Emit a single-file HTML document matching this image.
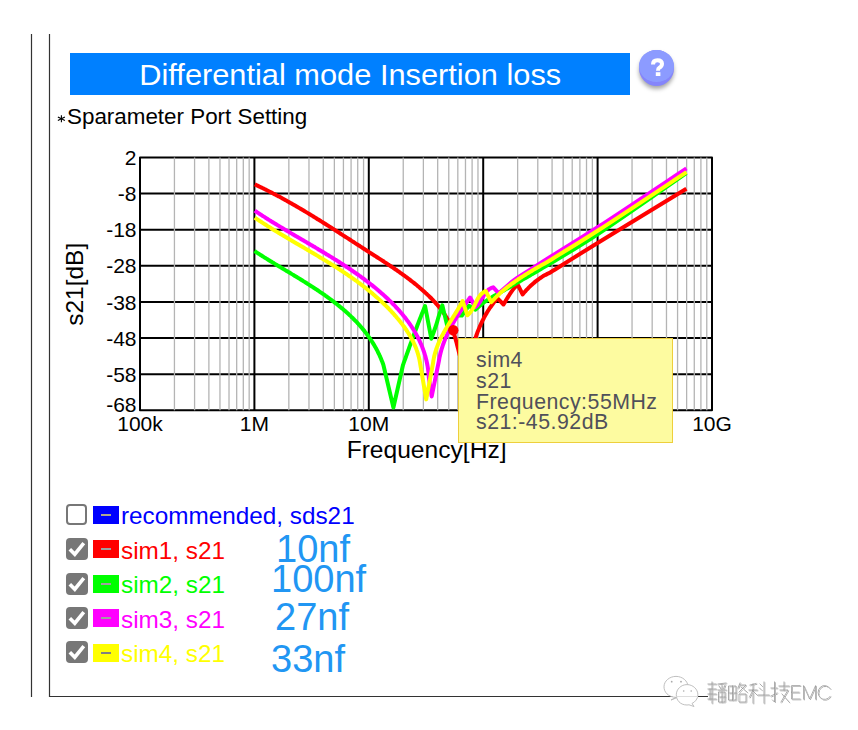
<!DOCTYPE html>
<html><head><meta charset="utf-8"><style>
html,body{margin:0;padding:0;background:#fff;width:858px;height:730px;overflow:hidden;position:relative;font-family:"Liberation Sans",sans-serif}
.bar{position:absolute;left:70px;top:53px;width:560px;height:42px;background:#0080ff}
.title{position:absolute;left:70px;top:53.8px;width:560px;height:42px;color:#fff;font-size:29.5px;line-height:42px;text-align:center;white-space:pre}
.title span{display:inline-block;transform:scaleX(1.043);transform-origin:50% 50%}
.help{position:absolute;left:639px;top:50px;width:35px;height:36px;border-radius:50%;background:#8585fb;box-shadow:0 3px 4px rgba(0,0,0,0.35)}
.help .in{position:absolute;left:0;top:0;width:35px;height:31.5px;border-radius:50%;background:#8c9bff}
.sub{position:absolute;left:67px;top:104.2px;font-size:22.4px;color:#000;white-space:pre}
.cb{position:absolute;left:65.5px;box-sizing:border-box;border-radius:4px}
.cb.off{width:21px;height:21px;border:2px solid #777;background:#fff}
.cb.on{width:22px;height:22px;background:#777}
.cb svg{position:absolute;left:0;top:0}
.sw{position:absolute;left:93px;width:26px;height:18px}
.dash{position:absolute;left:8px;top:8px;width:10px;height:2px}
.lt{position:absolute;left:121px;font-size:24.3px;line-height:28px;white-space:pre}
.nf{position:absolute;font-size:38px;color:#2196f3;line-height:40px;white-space:pre}
.tip{position:absolute;left:458px;top:338px;width:215px;height:105px;box-sizing:border-box;background:#fdfba0;border:1px solid #eecf3c}
.emc{position:absolute;left:789.5px;top:680px;font-size:19px;line-height:26px;color:#fff;-webkit-text-stroke:0.5px #999;text-shadow:0.8px 0.8px 0 rgba(80,80,80,0.45)}
.tip div{position:absolute;left:17px;font-size:21.3px;letter-spacing:0.5px;color:#50505a;white-space:pre;line-height:24px}
</style></head><body>
<svg width="858" height="730" viewBox="0 0 858 730" style="position:absolute;left:0;top:0">
<line x1="31.5" y1="34" x2="31.5" y2="697" stroke="#333" stroke-width="1.2"/>
<line x1="49.5" y1="34" x2="49.5" y2="697" stroke="#333" stroke-width="1.2"/>
<line x1="49" y1="696.5" x2="708" y2="696.5" stroke="#333" stroke-width="1.2"/>
<g><line x1="254.40" y1="157.5" x2="254.40" y2="410.3" stroke="#000" stroke-width="2"/><line x1="368.80" y1="157.5" x2="368.80" y2="410.3" stroke="#000" stroke-width="2"/><line x1="483.20" y1="157.5" x2="483.20" y2="410.3" stroke="#000" stroke-width="2"/><line x1="597.60" y1="157.5" x2="597.60" y2="410.3" stroke="#000" stroke-width="2"/><line x1="140.0" y1="193.61" x2="712.0" y2="193.61" stroke="#000" stroke-width="2"/><line x1="140.0" y1="229.73" x2="712.0" y2="229.73" stroke="#000" stroke-width="2"/><line x1="140.0" y1="265.84" x2="712.0" y2="265.84" stroke="#000" stroke-width="2"/><line x1="140.0" y1="301.96" x2="712.0" y2="301.96" stroke="#000" stroke-width="2"/><line x1="140.0" y1="338.07" x2="712.0" y2="338.07" stroke="#000" stroke-width="2"/><line x1="140.0" y1="374.19" x2="712.0" y2="374.19" stroke="#000" stroke-width="2"/></g>
<rect x="140.0" y="157.5" width="572.0" height="252.8" fill="none" stroke="#000" stroke-width="2" stroke-linejoin="round"/>
<g><line x1="174.44" y1="157.5" x2="174.44" y2="410.3" stroke="#b4b4b4" stroke-width="1.3"/><line x1="194.58" y1="157.5" x2="194.58" y2="410.3" stroke="#b4b4b4" stroke-width="1.3"/><line x1="208.88" y1="157.5" x2="208.88" y2="410.3" stroke="#b4b4b4" stroke-width="1.3"/><line x1="219.96" y1="157.5" x2="219.96" y2="410.3" stroke="#b4b4b4" stroke-width="1.3"/><line x1="229.02" y1="157.5" x2="229.02" y2="410.3" stroke="#b4b4b4" stroke-width="1.3"/><line x1="236.68" y1="157.5" x2="236.68" y2="410.3" stroke="#b4b4b4" stroke-width="1.3"/><line x1="243.31" y1="157.5" x2="243.31" y2="410.3" stroke="#b4b4b4" stroke-width="1.3"/><line x1="249.17" y1="157.5" x2="249.17" y2="410.3" stroke="#b4b4b4" stroke-width="1.3"/><line x1="288.84" y1="157.5" x2="288.84" y2="410.3" stroke="#b4b4b4" stroke-width="1.3"/><line x1="308.98" y1="157.5" x2="308.98" y2="410.3" stroke="#b4b4b4" stroke-width="1.3"/><line x1="323.28" y1="157.5" x2="323.28" y2="410.3" stroke="#b4b4b4" stroke-width="1.3"/><line x1="334.36" y1="157.5" x2="334.36" y2="410.3" stroke="#b4b4b4" stroke-width="1.3"/><line x1="343.42" y1="157.5" x2="343.42" y2="410.3" stroke="#b4b4b4" stroke-width="1.3"/><line x1="351.08" y1="157.5" x2="351.08" y2="410.3" stroke="#b4b4b4" stroke-width="1.3"/><line x1="357.71" y1="157.5" x2="357.71" y2="410.3" stroke="#b4b4b4" stroke-width="1.3"/><line x1="363.57" y1="157.5" x2="363.57" y2="410.3" stroke="#b4b4b4" stroke-width="1.3"/><line x1="403.24" y1="157.5" x2="403.24" y2="410.3" stroke="#b4b4b4" stroke-width="1.3"/><line x1="423.38" y1="157.5" x2="423.38" y2="410.3" stroke="#b4b4b4" stroke-width="1.3"/><line x1="437.68" y1="157.5" x2="437.68" y2="410.3" stroke="#b4b4b4" stroke-width="1.3"/><line x1="448.76" y1="157.5" x2="448.76" y2="410.3" stroke="#b4b4b4" stroke-width="1.3"/><line x1="457.82" y1="157.5" x2="457.82" y2="410.3" stroke="#b4b4b4" stroke-width="1.3"/><line x1="465.48" y1="157.5" x2="465.48" y2="410.3" stroke="#b4b4b4" stroke-width="1.3"/><line x1="472.11" y1="157.5" x2="472.11" y2="410.3" stroke="#b4b4b4" stroke-width="1.3"/><line x1="477.97" y1="157.5" x2="477.97" y2="410.3" stroke="#b4b4b4" stroke-width="1.3"/><line x1="517.64" y1="157.5" x2="517.64" y2="410.3" stroke="#b4b4b4" stroke-width="1.3"/><line x1="537.78" y1="157.5" x2="537.78" y2="410.3" stroke="#b4b4b4" stroke-width="1.3"/><line x1="552.08" y1="157.5" x2="552.08" y2="410.3" stroke="#b4b4b4" stroke-width="1.3"/><line x1="563.16" y1="157.5" x2="563.16" y2="410.3" stroke="#b4b4b4" stroke-width="1.3"/><line x1="572.22" y1="157.5" x2="572.22" y2="410.3" stroke="#b4b4b4" stroke-width="1.3"/><line x1="579.88" y1="157.5" x2="579.88" y2="410.3" stroke="#b4b4b4" stroke-width="1.3"/><line x1="586.51" y1="157.5" x2="586.51" y2="410.3" stroke="#b4b4b4" stroke-width="1.3"/><line x1="592.37" y1="157.5" x2="592.37" y2="410.3" stroke="#b4b4b4" stroke-width="1.3"/><line x1="632.04" y1="157.5" x2="632.04" y2="410.3" stroke="#b4b4b4" stroke-width="1.3"/><line x1="652.18" y1="157.5" x2="652.18" y2="410.3" stroke="#b4b4b4" stroke-width="1.3"/><line x1="666.48" y1="157.5" x2="666.48" y2="410.3" stroke="#b4b4b4" stroke-width="1.3"/><line x1="677.56" y1="157.5" x2="677.56" y2="410.3" stroke="#b4b4b4" stroke-width="1.3"/><line x1="686.62" y1="157.5" x2="686.62" y2="410.3" stroke="#b4b4b4" stroke-width="1.3"/><line x1="694.28" y1="157.5" x2="694.28" y2="410.3" stroke="#b4b4b4" stroke-width="1.3"/><line x1="700.91" y1="157.5" x2="700.91" y2="410.3" stroke="#b4b4b4" stroke-width="1.3"/><line x1="706.77" y1="157.5" x2="706.77" y2="410.3" stroke="#b4b4b4" stroke-width="1.3"/></g>
<g font-family="Liberation Sans" font-size="21" fill="#000"><text x="136.5" y="165.1" text-anchor="end">2</text><text x="136.5" y="201.2" text-anchor="end">-8</text><text x="136.5" y="237.3" text-anchor="end">-18</text><text x="136.5" y="273.4" text-anchor="end">-28</text><text x="136.5" y="309.6" text-anchor="end">-38</text><text x="136.5" y="345.7" text-anchor="end">-48</text><text x="136.5" y="381.8" text-anchor="end">-58</text><text x="136.5" y="411.8" text-anchor="end">-68</text><text x="140.0" y="431" text-anchor="middle">100k</text><text x="254.4" y="431" text-anchor="middle">1M</text><text x="368.8" y="431" text-anchor="middle">10M</text><text x="483.2" y="431" text-anchor="middle">100M</text><text x="597.6" y="431" text-anchor="middle">1G</text><text x="712.0" y="431" text-anchor="middle">10G</text></g>
<text x="426.6" y="458.2" text-anchor="middle" font-family="Liberation Sans" font-size="24.6" fill="#000">Frequency[Hz]</text>
<text transform="translate(83,284.3) rotate(-90)" text-anchor="middle" font-family="Liberation Sans" font-size="24.5" fill="#000">s21[dB]</text>
<path d="M254.80,184.40 C255.03,184.51 255.71,184.83 256.17,185.04 C256.62,185.25 257.08,185.47 257.53,185.68 C257.99,185.90 258.44,186.12 258.89,186.33 C259.35,186.55 259.80,186.77 260.25,186.99 C260.71,187.21 261.16,187.43 261.61,187.65 C262.06,187.87 262.52,188.09 262.97,188.31 C263.42,188.53 263.87,188.76 264.32,188.98 C264.77,189.20 265.22,189.43 265.67,189.65 C266.12,189.88 266.57,190.10 267.02,190.33 C267.47,190.56 267.92,190.78 268.37,191.01 C268.81,191.24 269.26,191.47 269.71,191.70 C270.16,191.93 270.61,192.16 271.05,192.39 C271.50,192.62 271.95,192.85 272.39,193.08 C272.84,193.31 273.28,193.55 273.73,193.78 C274.18,194.01 274.62,194.25 275.07,194.48 C275.51,194.72 275.96,194.95 276.40,195.19 C276.84,195.43 277.29,195.66 277.73,195.90 C278.18,196.14 278.62,196.37 279.06,196.61 C279.51,196.85 279.95,197.09 280.39,197.33 C280.83,197.57 281.27,197.81 281.72,198.05 C282.16,198.29 282.60,198.54 283.04,198.78 C283.48,199.02 283.92,199.26 284.36,199.51 C284.80,199.75 285.24,199.99 285.68,200.24 C286.12,200.48 286.56,200.73 287.00,200.97 C287.44,201.22 287.88,201.47 288.32,201.71 C288.76,201.96 289.20,202.21 289.64,202.46 C290.07,202.70 290.51,202.95 290.95,203.20 C291.39,203.45 291.82,203.70 292.26,203.95 C292.70,204.20 293.14,204.45 293.57,204.70 C294.01,204.95 294.44,205.20 294.88,205.46 C295.32,205.71 295.75,205.96 296.19,206.21 C296.62,206.47 297.06,206.72 297.49,206.97 C297.93,207.23 298.36,207.48 298.80,207.74 C299.23,207.99 299.67,208.25 300.10,208.50 C300.54,208.76 300.97,209.01 301.40,209.27 C301.84,209.53 302.27,209.79 302.70,210.04 C303.14,210.30 303.57,210.56 304.00,210.82 C304.43,211.07 304.87,211.33 305.30,211.59 C305.73,211.85 306.16,212.11 306.59,212.37 C307.03,212.63 307.46,212.89 307.89,213.15 C308.32,213.41 308.75,213.67 309.18,213.94 C309.61,214.20 310.04,214.46 310.47,214.72 C310.90,214.98 311.33,215.25 311.76,215.51 C312.19,215.77 312.62,216.04 313.05,216.30 C313.48,216.56 313.91,216.83 314.34,217.09 C314.77,217.35 315.20,217.62 315.63,217.88 C316.06,218.15 316.49,218.41 316.92,218.68 C317.34,218.95 317.77,219.21 318.20,219.48 C318.63,219.74 319.06,220.01 319.49,220.28 C319.91,220.54 320.34,220.81 320.77,221.08 C321.20,221.34 321.62,221.61 322.05,221.88 C322.48,222.15 322.90,222.41 323.33,222.68 C323.76,222.95 324.19,223.22 324.61,223.49 C325.04,223.76 325.47,224.03 325.89,224.29 C326.32,224.56 326.74,224.83 327.17,225.10 C327.60,225.37 328.02,225.64 328.45,225.91 C328.87,226.18 329.30,226.45 329.72,226.72 C330.15,226.99 330.57,227.26 331.00,227.53 C331.43,227.81 331.85,228.08 332.28,228.35 C332.70,228.62 333.13,228.89 333.55,229.16 C333.97,229.43 334.40,229.70 334.82,229.98 C335.25,230.25 335.67,230.52 336.10,230.79 C336.52,231.06 336.95,231.33 337.37,231.61 C337.79,231.88 338.22,232.15 338.64,232.42 C339.07,232.70 339.49,232.97 339.91,233.24 C340.34,233.51 340.76,233.79 341.18,234.06 C341.61,234.33 342.03,234.61 342.45,234.88 C342.88,235.15 343.30,235.42 343.72,235.70 C344.15,235.97 344.57,236.24 344.99,236.52 C345.42,236.79 345.84,237.06 346.26,237.34 C346.68,237.61 347.11,237.88 347.53,238.16 C347.95,238.43 348.38,238.70 348.80,238.98 C349.22,239.25 349.64,239.52 350.07,239.80 C350.49,240.07 350.91,240.34 351.33,240.62 C351.76,240.89 352.18,241.17 352.60,241.44 C353.02,241.71 353.44,241.99 353.87,242.26 C354.29,242.53 354.71,242.81 355.13,243.08 C355.56,243.35 355.98,243.63 356.40,243.90 C356.82,244.17 357.24,244.45 357.67,244.72 C358.09,244.99 358.51,245.27 358.93,245.54 C359.35,245.81 359.78,246.08 360.20,246.36 C360.62,246.63 361.04,246.90 361.46,247.18 C361.89,247.45 362.31,247.72 362.73,247.99 C363.15,248.27 363.57,248.54 364.00,248.81 C364.42,249.08 364.84,249.36 365.26,249.63 C365.68,249.90 366.11,250.17 366.53,250.44 C366.95,250.72 367.37,250.99 367.79,251.26 C368.22,251.53 368.64,251.80 369.06,252.07 C369.48,252.34 369.90,252.61 370.33,252.89 C370.75,253.16 371.17,253.43 371.59,253.70 C372.01,253.97 372.44,254.24 372.86,254.51 C373.28,254.78 373.70,255.05 374.12,255.32 C374.54,255.59 374.97,255.86 375.39,256.13 C375.81,256.41 376.23,256.68 376.65,256.95 C377.07,257.22 377.49,257.49 377.92,257.76 C378.34,258.03 378.76,258.30 379.18,258.57 C379.60,258.85 380.02,259.12 380.44,259.39 C380.86,259.66 381.28,259.93 381.70,260.21 C382.12,260.48 382.54,260.75 382.96,261.02 C383.38,261.30 383.80,261.57 384.22,261.84 C384.64,262.12 385.05,262.39 385.47,262.66 C385.89,262.94 386.31,263.21 386.73,263.49 C387.15,263.76 387.56,264.04 387.98,264.32 C388.40,264.59 388.81,264.87 389.23,265.14 C389.65,265.42 390.06,265.70 390.48,265.98 C390.89,266.25 391.31,266.53 391.73,266.81 C392.14,267.09 392.55,267.37 392.97,267.65 C393.38,267.93 393.80,268.21 394.21,268.49 C394.62,268.78 395.04,269.06 395.45,269.34 C395.86,269.62 396.27,269.91 396.68,270.19 C397.10,270.48 397.51,270.76 397.92,271.05 C398.33,271.33 398.74,271.62 399.15,271.91 C399.56,272.19 399.96,272.48 400.37,272.77 C400.78,273.06 401.19,273.35 401.60,273.64 C402.00,273.93 402.41,274.22 402.82,274.52 C403.22,274.81 403.63,275.10 404.03,275.40 C404.44,275.69 404.84,275.99 405.24,276.28 C405.65,276.58 406.05,276.88 406.45,277.18 C406.85,277.48 407.26,277.78 407.66,278.08 C408.06,278.38 408.46,278.68 408.86,278.98 C409.26,279.29 409.65,279.59 410.05,279.90 C410.45,280.20 410.85,280.51 411.24,280.82 C411.64,281.12 412.03,281.43 412.43,281.74 C412.82,282.05 413.22,282.37 413.61,282.68 C414.00,282.99 414.40,283.31 414.79,283.62 C415.18,283.94 415.57,284.25 415.96,284.57 C416.35,284.89 416.74,285.21 417.13,285.53 C417.51,285.85 417.90,286.18 418.29,286.50 C418.67,286.82 419.06,287.15 419.44,287.48 C419.83,287.80 420.21,288.13 420.59,288.46 C420.98,288.79 421.36,289.12 421.74,289.46 C422.12,289.79 422.50,290.13 422.88,290.46 C423.26,290.80 423.63,291.14 424.01,291.48 C424.39,291.82 424.76,292.16 425.14,292.50 C425.51,292.84 425.88,293.19 426.26,293.53 C426.63,293.88 427.00,294.23 427.37,294.58 C427.74,294.93 428.11,295.28 428.48,295.63 C428.85,295.99 429.21,296.34 429.58,296.70 C429.94,297.06 430.30,297.42 430.66,297.78 C431.03,298.14 431.39,298.50 431.74,298.86 C432.10,299.23 432.46,299.60 432.81,299.96 C433.16,300.33 433.51,300.70 433.86,301.07 C434.21,301.44 434.56,301.82 434.90,302.19 C435.25,302.57 435.59,302.94 435.93,303.32 C436.27,303.70 436.61,304.08 436.94,304.46 C437.27,304.85 437.60,305.23 437.93,305.62 C438.26,306.00 438.59,306.39 438.91,306.78 C439.23,307.17 439.55,307.56 439.86,307.95 C440.18,308.35 440.49,308.74 440.80,309.14 C441.11,309.53 441.41,309.93 441.72,310.33 C442.02,310.73 442.32,311.14 442.61,311.54 C442.90,311.95 443.19,312.35 443.48,312.76 C443.77,313.17 444.05,313.58 444.33,313.99 C444.60,314.40 444.88,314.82 445.15,315.23 C445.42,315.65 445.68,316.06 445.95,316.48 C446.21,316.90 446.46,317.32 446.72,317.75 C446.97,318.17 447.22,318.60 447.46,319.02 C447.71,319.45 447.95,319.88 448.18,320.31 C448.42,320.74 448.65,321.17 448.88,321.61 C449.11,322.04 449.33,322.48 449.55,322.92 C449.76,323.36 449.98,323.80 450.18,324.24 C450.39,324.68 450.60,325.12 450.80,325.57 C451.00,326.02 451.19,326.47 451.38,326.91 C451.57,327.36 451.76,327.82 451.94,328.27 C452.12,328.72 452.30,329.18 452.47,329.64 C452.65,330.09 452.82,330.55 452.98,331.01 C453.15,331.47 453.31,331.93 453.47,332.40 C453.63,332.86 453.79,333.32 453.94,333.79 C454.09,334.26 454.24,334.72 454.39,335.19 C454.54,335.66 454.68,336.13 454.83,336.60 C454.97,337.07 455.11,337.55 455.25,338.02 C455.38,338.49 455.52,338.97 455.65,339.44 C455.79,339.92 455.92,340.39 456.05,340.87 C456.18,341.35 456.31,341.83 456.44,342.30 C456.57,342.78 456.69,343.26 456.82,343.74 C456.94,344.22 457.07,344.70 457.19,345.19 C457.31,345.67 457.44,346.15 457.56,346.63 C457.68,347.12 457.80,347.60 457.93,348.08 C458.05,348.57 458.17,349.05 458.29,349.53 C458.41,350.02 458.53,350.50 458.66,350.99 C458.78,351.47 458.90,351.96 459.03,352.44 C459.15,352.93 459.27,353.41 459.40,353.90 C459.52,354.38 459.65,354.87 459.78,355.35 C459.90,355.84 460.03,356.32 460.16,356.81 C460.29,357.29 460.42,357.77 460.56,358.26 C460.69,358.74 460.83,359.23 460.96,359.71 C461.10,360.19 461.24,360.68 461.38,361.16 C461.52,361.64 461.67,362.12 461.82,362.61 C461.96,363.09 462.11,363.57 462.26,364.05 C462.42,364.53 462.57,365.01 462.73,365.49 C462.89,365.97 463.05,366.44 463.22,366.92 C463.38,367.40 463.55,367.88 463.72,368.35 C463.90,368.83 464.07,369.30 464.25,369.77 C464.44,370.25 464.62,370.72 464.81,371.19 C465.00,371.66 465.19,372.13 465.39,372.60 C465.59,373.07 465.90,373.77 466.00,374.00 C466.05,373.75 466.21,373.02 466.32,372.52 C466.43,372.03 466.54,371.54 466.65,371.04 C466.76,370.55 466.87,370.05 466.98,369.56 C467.09,369.06 467.20,368.57 467.31,368.07 C467.42,367.58 467.53,367.08 467.64,366.58 C467.76,366.09 467.87,365.59 467.99,365.09 C468.10,364.59 468.21,364.10 468.33,363.60 C468.45,363.10 468.56,362.60 468.68,362.10 C468.80,361.61 468.92,361.11 469.04,360.61 C469.16,360.11 469.28,359.61 469.40,359.11 C469.52,358.61 469.65,358.11 469.77,357.62 C469.89,357.12 470.02,356.62 470.14,356.12 C470.27,355.62 470.40,355.12 470.53,354.62 C470.66,354.13 470.79,353.63 470.92,353.13 C471.05,352.63 471.18,352.13 471.32,351.64 C471.45,351.14 471.59,350.64 471.72,350.14 C471.86,349.65 472.00,349.15 472.14,348.65 C472.28,348.16 472.42,347.66 472.57,347.17 C472.71,346.67 472.85,346.18 473.00,345.68 C473.15,345.19 473.30,344.69 473.45,344.20 C473.60,343.71 473.75,343.21 473.90,342.72 C474.06,342.23 474.21,341.74 474.37,341.25 C474.53,340.76 474.69,340.27 474.85,339.78 C475.01,339.29 475.17,338.80 475.34,338.31 C475.50,337.82 475.67,337.34 475.84,336.85 C476.01,336.36 476.18,335.88 476.35,335.40 C476.53,334.91 476.70,334.43 476.88,333.95 C477.06,333.46 477.24,332.98 477.42,332.50 C477.60,332.02 477.79,331.54 477.98,331.06 C478.16,330.59 478.35,330.11 478.54,329.63 C478.74,329.16 478.93,328.68 479.13,328.21 C479.32,327.74 479.52,327.27 479.73,326.79 C479.93,326.32 480.13,325.85 480.34,325.39 C480.55,324.92 480.76,324.45 480.97,323.99 C481.18,323.52 481.40,323.06 481.61,322.60 C481.83,322.13 482.05,321.67 482.28,321.21 C482.50,320.75 482.73,320.30 482.96,319.84 C483.18,319.39 483.42,318.93 483.65,318.48 C483.89,318.03 484.13,317.57 484.37,317.13 C484.61,316.68 484.85,316.23 485.10,315.78 C485.35,315.34 485.60,314.89 485.85,314.45 C486.10,314.01 486.36,313.57 486.62,313.13 C486.88,312.69 487.14,312.26 487.41,311.82 C487.68,311.39 487.95,310.96 488.22,310.53 C488.49,310.10 488.77,309.67 489.05,309.24 C489.33,308.82 489.61,308.39 489.90,307.97 C490.19,307.55 490.48,307.13 490.77,306.71 C491.07,306.29 491.37,305.88 491.67,305.47 C491.97,305.05 492.27,304.64 492.58,304.24 C492.89,303.83 493.20,303.42 493.52,303.02 C493.84,302.62 494.16,302.21 494.48,301.82 C494.80,301.42 495.13,301.02 495.46,300.63 C495.79,300.24 496.13,299.84 496.47,299.46 C496.81,299.07 497.33,298.49 497.50,298.30 C498.50,299.33 502.50,303.47 503.50,304.50 C504.63,302.65 508.37,296.28 510.30,293.40 C512.23,290.52 513.78,288.52 515.10,287.20 C516.42,285.88 517.68,285.78 518.20,285.50 C518.93,286.98 521.87,292.92 522.60,294.40 C522.77,294.20 523.28,293.60 523.62,293.20 C523.96,292.80 524.31,292.41 524.66,292.02 C525.01,291.62 525.36,291.23 525.71,290.84 C526.06,290.46 526.42,290.07 526.78,289.69 C527.14,289.31 527.50,288.93 527.87,288.55 C528.23,288.17 528.60,287.80 528.97,287.43 C529.34,287.06 529.72,286.69 530.09,286.32 C530.47,285.96 530.85,285.60 531.23,285.24 C531.62,284.89 532.00,284.53 532.39,284.18 C532.78,283.83 533.17,283.49 533.57,283.15 C533.97,282.81 534.37,282.47 534.77,282.14 C535.17,281.80 535.58,281.47 535.99,281.15 C536.40,280.82 536.81,280.51 537.23,280.19 C537.64,279.88 538.06,279.57 538.49,279.26 C538.91,278.95 539.34,278.65 539.77,278.36 C540.20,278.06 540.64,277.77 541.07,277.49 C541.51,277.21 541.96,276.93 542.40,276.65 C542.85,276.38 543.30,276.11 543.75,275.85 C544.21,275.59 544.67,275.33 545.13,275.08 C545.59,274.83 546.06,274.59 546.53,274.35 C547.00,274.11 547.47,273.88 547.95,273.66 C548.43,273.43 549.16,273.11 549.40,273.00 C557.43,268.00 574.77,257.03 597.60,243.00 C620.43,228.97 671.60,197.83 686.40,188.80" fill="none" stroke="#ff0000" stroke-width="4" stroke-linejoin="round" stroke-linecap="butt"/>
<path d="M254.50,251.00 C254.70,251.13 255.30,251.53 255.71,251.80 C256.11,252.06 256.51,252.33 256.92,252.60 C257.32,252.86 257.73,253.13 258.14,253.39 C258.55,253.65 258.95,253.92 259.36,254.18 C259.77,254.45 260.18,254.71 260.60,254.97 C261.01,255.24 261.42,255.50 261.83,255.76 C262.25,256.03 262.66,256.29 263.08,256.55 C263.49,256.82 263.91,257.08 264.33,257.34 C264.75,257.60 265.16,257.87 265.58,258.13 C266.00,258.39 266.42,258.65 266.84,258.91 C267.26,259.17 267.69,259.44 268.11,259.70 C268.53,259.96 268.95,260.22 269.38,260.48 C269.80,260.74 270.23,261.00 270.65,261.27 C271.08,261.53 271.51,261.79 271.93,262.05 C272.36,262.31 272.79,262.57 273.22,262.83 C273.64,263.09 274.07,263.35 274.50,263.62 C274.93,263.88 275.36,264.14 275.79,264.40 C276.22,264.66 276.66,264.92 277.09,265.18 C277.52,265.44 277.95,265.70 278.38,265.96 C278.82,266.23 279.25,266.49 279.68,266.75 C280.12,267.01 280.55,267.27 280.99,267.53 C281.42,267.80 281.86,268.06 282.29,268.32 C282.73,268.58 283.16,268.84 283.60,269.11 C284.04,269.37 284.47,269.63 284.91,269.89 C285.35,270.16 285.78,270.42 286.22,270.68 C286.66,270.94 287.09,271.21 287.53,271.47 C287.97,271.73 288.41,272.00 288.85,272.26 C289.28,272.53 289.72,272.79 290.16,273.05 C290.60,273.32 291.04,273.58 291.48,273.85 C291.92,274.11 292.36,274.38 292.79,274.65 C293.23,274.91 293.67,275.18 294.11,275.44 C294.55,275.71 294.99,275.98 295.43,276.24 C295.87,276.51 296.31,276.78 296.75,277.05 C297.19,277.31 297.62,277.58 298.06,277.85 C298.50,278.12 298.94,278.39 299.38,278.66 C299.82,278.93 300.26,279.20 300.70,279.47 C301.13,279.74 301.57,280.01 302.01,280.28 C302.45,280.55 302.89,280.83 303.32,281.10 C303.76,281.37 304.20,281.64 304.64,281.92 C305.07,282.19 305.51,282.46 305.95,282.74 C306.38,283.01 306.82,283.29 307.26,283.56 C307.69,283.84 308.13,284.12 308.56,284.39 C309.00,284.67 309.43,284.95 309.87,285.23 C310.30,285.50 310.74,285.78 311.17,286.06 C311.60,286.34 312.04,286.62 312.47,286.90 C312.90,287.18 313.33,287.46 313.76,287.75 C314.20,288.03 314.63,288.31 315.06,288.59 C315.49,288.88 315.92,289.16 316.35,289.45 C316.77,289.73 317.20,290.02 317.63,290.30 C318.06,290.59 318.49,290.88 318.91,291.17 C319.34,291.45 319.77,291.74 320.19,292.03 C320.62,292.32 321.04,292.61 321.46,292.90 C321.89,293.19 322.31,293.49 322.73,293.78 C323.15,294.07 323.58,294.37 324.00,294.66 C324.42,294.96 324.84,295.25 325.25,295.55 C325.67,295.84 326.09,296.14 326.51,296.44 C326.93,296.74 327.34,297.04 327.76,297.34 C328.17,297.64 328.59,297.94 329.00,298.24 C329.41,298.54 329.82,298.84 330.23,299.15 C330.65,299.45 331.06,299.76 331.46,300.06 C331.87,300.37 332.28,300.68 332.69,300.98 C333.09,301.29 333.50,301.60 333.90,301.91 C334.31,302.22 334.71,302.53 335.11,302.85 C335.52,303.16 335.92,303.47 336.32,303.79 C336.72,304.10 337.12,304.42 337.51,304.73 C337.91,305.05 338.31,305.37 338.70,305.69 C339.10,306.00 339.49,306.32 339.88,306.65 C340.27,306.97 340.66,307.29 341.05,307.61 C341.44,307.94 341.83,308.26 342.22,308.59 C342.60,308.91 342.99,309.24 343.37,309.57 C343.76,309.90 344.14,310.23 344.52,310.56 C344.90,310.89 345.28,311.22 345.66,311.56 C346.03,311.89 346.41,312.22 346.79,312.56 C347.16,312.90 347.53,313.23 347.90,313.57 C348.28,313.91 348.65,314.25 349.01,314.59 C349.38,314.93 349.75,315.28 350.11,315.62 C350.48,315.97 350.84,316.31 351.20,316.66 C351.57,317.00 351.93,317.35 352.28,317.70 C352.64,318.05 353.00,318.40 353.35,318.76 C353.71,319.11 354.06,319.46 354.41,319.82 C354.76,320.17 355.11,320.53 355.46,320.89 C355.80,321.25 356.15,321.61 356.49,321.97 C356.84,322.33 357.18,322.70 357.52,323.06 C357.86,323.42 358.19,323.79 358.53,324.16 C358.87,324.53 359.20,324.90 359.53,325.27 C359.86,325.64 360.19,326.01 360.52,326.38 C360.85,326.76 361.17,327.13 361.50,327.51 C361.82,327.89 362.14,328.27 362.46,328.65 C362.78,329.03 363.10,329.41 363.41,329.79 C363.72,330.18 364.04,330.56 364.35,330.95 C364.66,331.34 364.97,331.73 365.27,332.12 C365.58,332.51 365.88,332.90 366.18,333.29 C366.48,333.69 366.78,334.08 367.08,334.48 C367.38,334.88 367.67,335.28 367.96,335.68 C368.26,336.08 368.55,336.48 368.83,336.89 C369.12,337.29 369.41,337.70 369.69,338.11 C369.97,338.52 370.25,338.93 370.53,339.34 C370.81,339.75 371.08,340.17 371.35,340.58 C371.63,341.00 371.90,341.42 372.16,341.84 C372.43,342.26 372.70,342.68 372.96,343.10 C373.22,343.52 373.48,343.95 373.74,344.38 C373.99,344.80 374.25,345.23 374.50,345.66 C374.75,346.10 375.00,346.53 375.25,346.96 C375.49,347.40 375.74,347.84 375.98,348.28 C376.22,348.72 376.46,349.16 376.69,349.60 C376.93,350.04 377.16,350.49 377.39,350.94 C377.62,351.38 377.85,351.83 378.07,352.28 C378.30,352.74 378.52,353.19 378.74,353.65 C378.96,354.10 379.17,354.56 379.38,355.02 C379.60,355.48 379.81,355.94 380.01,356.41 C380.22,356.87 380.42,357.34 380.62,357.80 C380.82,358.27 381.02,358.74 381.22,359.22 C381.41,359.69 381.60,360.16 381.79,360.64 C381.98,361.12 382.16,361.60 382.35,362.08 C382.53,362.56 382.71,363.05 382.88,363.53 C383.06,364.02 383.31,364.76 383.40,365.00 C385.07,372.08 391.73,400.42 393.40,407.50 C395.00,400.42 401.40,372.08 403.00,365.00 C403.09,364.76 403.35,364.04 403.52,363.55 C403.69,363.07 403.86,362.59 404.04,362.11 C404.21,361.62 404.38,361.14 404.55,360.66 C404.72,360.18 404.90,359.69 405.07,359.21 C405.24,358.73 405.41,358.25 405.59,357.76 C405.76,357.28 405.93,356.80 406.10,356.31 C406.28,355.83 406.45,355.35 406.62,354.87 C406.79,354.38 406.97,353.90 407.14,353.42 C407.31,352.94 407.48,352.46 407.66,351.97 C407.83,351.49 408.00,351.01 408.17,350.53 C408.35,350.04 408.52,349.56 408.69,349.08 C408.87,348.60 409.04,348.11 409.21,347.63 C409.39,347.15 409.56,346.67 409.73,346.19 C409.91,345.70 410.08,345.22 410.26,344.74 C410.43,344.26 410.60,343.78 410.78,343.29 C410.95,342.81 411.13,342.33 411.30,341.85 C411.48,341.37 411.65,340.89 411.83,340.40 C412.00,339.92 412.18,339.44 412.35,338.96 C412.53,338.48 412.71,338.00 412.88,337.52 C413.06,337.04 413.23,336.56 413.41,336.07 C413.59,335.59 413.77,335.11 413.94,334.63 C414.12,334.15 414.30,333.67 414.48,333.19 C414.65,332.71 414.83,332.23 415.01,331.75 C415.19,331.27 415.37,330.79 415.55,330.31 C415.73,329.83 415.91,329.35 416.09,328.87 C416.27,328.39 416.45,327.91 416.63,327.43 C416.81,326.95 416.99,326.48 417.17,326.00 C417.36,325.52 417.54,325.04 417.72,324.56 C417.90,324.08 418.09,323.60 418.27,323.13 C418.45,322.65 418.64,322.17 418.82,321.69 C419.01,321.21 419.19,320.74 419.38,320.26 C419.56,319.78 419.75,319.30 419.93,318.83 C420.12,318.35 420.31,317.87 420.49,317.40 C420.68,316.92 420.87,316.44 421.06,315.97 C421.25,315.49 421.43,315.01 421.62,314.54 C421.81,314.06 422.00,313.59 422.19,313.11 C422.39,312.64 422.58,312.16 422.77,311.69 C422.96,311.21 423.15,310.74 423.35,310.26 C423.54,309.79 423.73,309.31 423.93,308.84 C424.12,308.37 424.32,307.89 424.51,307.42 C424.71,306.95 425.00,306.24 425.10,306.00 C426.13,311.45 430.27,333.25 431.30,338.70 C432.12,336.42 435.00,328.62 436.20,325.00 C437.40,321.38 437.48,320.28 438.50,317.00 C439.52,313.72 441.67,307.25 442.30,305.30 C443.25,309.25 447.05,325.05 448.00,329.00 C449.22,326.75 454.08,317.75 455.30,315.50 C456.40,315.50 460.80,315.50 461.90,315.50 C463.05,313.88 467.65,307.42 468.80,305.80 C469.92,306.45 474.38,309.05 475.50,309.70 C475.69,309.51 476.27,308.94 476.65,308.58 C477.04,308.21 477.43,307.85 477.82,307.50 C478.21,307.14 478.60,306.79 478.99,306.45 C479.39,306.11 479.78,305.78 480.18,305.45 C480.58,305.12 480.98,304.79 481.38,304.47 C481.78,304.15 482.19,303.84 482.59,303.53 C483.00,303.22 483.41,302.92 483.82,302.62 C484.23,302.32 484.64,302.02 485.05,301.73 C485.46,301.44 485.88,301.15 486.29,300.87 C486.71,300.58 487.13,300.30 487.55,300.03 C487.97,299.75 488.39,299.48 488.81,299.20 C489.23,298.93 489.66,298.67 490.08,298.40 C490.51,298.13 490.93,297.87 491.36,297.61 C491.79,297.35 492.22,297.09 492.65,296.83 C493.08,296.57 493.51,296.32 493.95,296.06 C494.38,295.81 494.81,295.56 495.25,295.30 C495.69,295.05 496.12,294.80 496.56,294.55 C497.00,294.30 497.44,294.05 497.88,293.80 C498.32,293.55 498.76,293.30 499.20,293.05 C499.64,292.80 500.08,292.54 500.53,292.29 C500.97,292.04 501.42,291.79 501.86,291.54 C502.31,291.28 502.75,291.03 503.20,290.78 C503.65,290.52 504.10,290.27 504.54,290.01 C504.99,289.76 505.44,289.50 505.89,289.25 C506.34,288.99 506.79,288.74 507.24,288.48 C507.69,288.22 508.15,287.96 508.60,287.71 C509.05,287.45 509.50,287.19 509.96,286.93 C510.41,286.67 510.86,286.42 511.32,286.16 C511.77,285.90 512.22,285.64 512.68,285.38 C513.13,285.12 513.59,284.86 514.04,284.60 C514.50,284.34 514.95,284.08 515.41,283.82 C515.86,283.56 516.32,283.30 516.78,283.03 C517.23,282.77 517.69,282.51 518.14,282.25 C518.60,281.99 519.05,281.73 519.51,281.46 C519.97,281.20 520.42,280.94 520.88,280.68 C521.33,280.42 521.79,280.15 522.24,279.89 C522.70,279.63 523.16,279.37 523.61,279.10 C524.07,278.84 524.52,278.58 524.97,278.32 C525.43,278.05 525.88,277.79 526.34,277.53 C526.79,277.27 527.24,277.00 527.70,276.74 C528.15,276.48 528.60,276.22 529.05,275.95 C529.51,275.69 529.96,275.43 530.41,275.17 C530.86,274.90 531.31,274.64 531.76,274.38 C532.21,274.12 532.66,273.86 533.11,273.60 C533.56,273.33 534.00,273.07 534.45,272.81 C534.90,272.55 535.34,272.29 535.79,272.03 C536.24,271.77 536.68,271.51 537.12,271.25 C537.57,270.99 538.01,270.73 538.45,270.47 C538.89,270.21 539.33,269.95 539.77,269.69 C540.21,269.43 540.65,269.17 541.09,268.91 C541.53,268.65 541.97,268.40 542.40,268.14 C542.84,267.88 543.27,267.62 543.70,267.37 C544.14,267.11 544.78,266.73 545.00,266.60 C553.77,261.22 574.03,249.88 597.60,234.30 C621.17,218.72 671.60,183.30 686.40,173.10" fill="none" stroke="#00ff00" stroke-width="4" stroke-linejoin="round" stroke-linecap="butt"/>
<path d="M254.80,210.70 C255.00,210.84 255.62,211.25 256.02,211.52 C256.43,211.79 256.84,212.07 257.25,212.34 C257.66,212.61 258.07,212.88 258.48,213.15 C258.90,213.42 259.31,213.70 259.72,213.97 C260.13,214.24 260.55,214.51 260.96,214.78 C261.38,215.05 261.79,215.31 262.21,215.58 C262.62,215.85 263.04,216.12 263.45,216.39 C263.87,216.65 264.29,216.92 264.71,217.19 C265.13,217.46 265.55,217.72 265.97,217.99 C266.38,218.25 266.81,218.52 267.23,218.79 C267.65,219.05 268.07,219.32 268.49,219.58 C268.91,219.85 269.34,220.11 269.76,220.37 C270.18,220.64 270.61,220.90 271.03,221.17 C271.46,221.43 271.88,221.69 272.31,221.95 C272.73,222.22 273.16,222.48 273.58,222.74 C274.01,223.00 274.44,223.27 274.87,223.53 C275.29,223.79 275.72,224.05 276.15,224.31 C276.58,224.57 277.01,224.83 277.44,225.09 C277.87,225.36 278.30,225.62 278.73,225.88 C279.16,226.14 279.59,226.40 280.02,226.66 C280.45,226.92 280.88,227.18 281.32,227.43 C281.75,227.69 282.18,227.95 282.61,228.21 C283.05,228.47 283.48,228.73 283.91,228.99 C284.35,229.25 284.78,229.51 285.22,229.77 C285.65,230.02 286.09,230.28 286.52,230.54 C286.96,230.80 287.39,231.06 287.83,231.32 C288.26,231.57 288.70,231.83 289.14,232.09 C289.57,232.35 290.01,232.60 290.45,232.86 C290.88,233.12 291.32,233.38 291.76,233.64 C292.20,233.89 292.63,234.15 293.07,234.41 C293.51,234.67 293.95,234.92 294.39,235.18 C294.83,235.44 295.27,235.70 295.70,235.95 C296.14,236.21 296.58,236.47 297.02,236.73 C297.46,236.98 297.90,237.24 298.34,237.50 C298.78,237.76 299.22,238.01 299.66,238.27 C300.10,238.53 300.54,238.79 300.98,239.04 C301.42,239.30 301.86,239.56 302.30,239.82 C302.74,240.08 303.18,240.33 303.62,240.59 C304.06,240.85 304.51,241.11 304.95,241.37 C305.39,241.63 305.83,241.88 306.27,242.14 C306.71,242.40 307.15,242.66 307.59,242.92 C308.03,243.18 308.47,243.44 308.92,243.70 C309.36,243.95 309.80,244.21 310.24,244.47 C310.68,244.73 311.12,244.99 311.56,245.25 C312.00,245.51 312.44,245.77 312.89,246.03 C313.33,246.29 313.77,246.55 314.21,246.81 C314.65,247.08 315.09,247.34 315.53,247.60 C315.97,247.86 316.41,248.12 316.85,248.38 C317.29,248.64 317.73,248.91 318.17,249.17 C318.62,249.43 319.06,249.69 319.50,249.96 C319.94,250.22 320.38,250.48 320.82,250.75 C321.26,251.01 321.70,251.27 322.13,251.54 C322.57,251.80 323.01,252.07 323.45,252.33 C323.89,252.60 324.33,252.86 324.77,253.13 C325.21,253.39 325.65,253.66 326.09,253.92 C326.52,254.19 326.96,254.46 327.40,254.72 C327.84,254.99 328.27,255.26 328.71,255.53 C329.15,255.79 329.59,256.06 330.02,256.33 C330.46,256.60 330.90,256.87 331.33,257.14 C331.77,257.41 332.20,257.68 332.64,257.95 C333.08,258.22 333.51,258.49 333.95,258.76 C334.38,259.03 334.81,259.31 335.25,259.58 C335.68,259.85 336.12,260.12 336.55,260.40 C336.98,260.67 337.42,260.94 337.85,261.22 C338.28,261.49 338.71,261.77 339.15,262.04 C339.58,262.32 340.01,262.60 340.44,262.87 C340.87,263.15 341.30,263.43 341.73,263.70 C342.16,263.98 342.59,264.26 343.02,264.54 C343.45,264.82 343.88,265.10 344.31,265.38 C344.73,265.66 345.16,265.94 345.59,266.22 C346.02,266.50 346.44,266.78 346.87,267.07 C347.29,267.35 347.72,267.63 348.14,267.92 C348.57,268.20 348.99,268.49 349.42,268.77 C349.84,269.06 350.26,269.34 350.69,269.63 C351.11,269.92 351.53,270.20 351.95,270.49 C352.38,270.78 352.80,271.07 353.22,271.36 C353.64,271.65 354.06,271.94 354.48,272.23 C354.89,272.52 355.31,272.81 355.73,273.10 C356.15,273.40 356.56,273.69 356.98,273.98 C357.40,274.28 357.81,274.57 358.23,274.87 C358.64,275.16 359.06,275.46 359.47,275.76 C359.88,276.06 360.30,276.35 360.71,276.65 C361.12,276.95 361.53,277.25 361.94,277.55 C362.35,277.85 362.76,278.15 363.17,278.46 C363.58,278.76 363.99,279.06 364.40,279.37 C364.80,279.67 365.21,279.97 365.62,280.28 C366.02,280.59 366.43,280.89 366.83,281.20 C367.23,281.51 367.64,281.82 368.04,282.13 C368.44,282.43 368.84,282.75 369.25,283.06 C369.65,283.37 370.05,283.68 370.44,283.99 C370.84,284.31 371.24,284.62 371.64,284.94 C372.04,285.25 372.43,285.57 372.83,285.88 C373.22,286.20 373.62,286.52 374.01,286.84 C374.40,287.16 374.80,287.48 375.19,287.80 C375.58,288.12 375.97,288.44 376.36,288.76 C376.75,289.09 377.14,289.41 377.53,289.74 C377.91,290.06 378.30,290.39 378.68,290.72 C379.07,291.04 379.45,291.37 379.84,291.70 C380.22,292.03 380.60,292.36 380.99,292.69 C381.37,293.03 381.75,293.36 382.13,293.69 C382.50,294.03 382.88,294.36 383.26,294.70 C383.64,295.03 384.01,295.37 384.39,295.71 C384.76,296.05 385.13,296.39 385.50,296.73 C385.88,297.07 386.25,297.41 386.62,297.75 C386.98,298.10 387.35,298.44 387.72,298.79 C388.09,299.13 388.45,299.48 388.81,299.83 C389.18,300.18 389.54,300.53 389.90,300.88 C390.26,301.23 390.62,301.58 390.98,301.93 C391.34,302.28 391.69,302.64 392.05,302.99 C392.40,303.35 392.75,303.71 393.11,304.06 C393.46,304.42 393.81,304.78 394.16,305.14 C394.50,305.50 394.85,305.87 395.20,306.23 C395.54,306.59 395.88,306.96 396.23,307.32 C396.57,307.69 396.91,308.06 397.25,308.42 C397.58,308.79 397.92,309.16 398.25,309.53 C398.59,309.91 398.92,310.28 399.25,310.65 C399.58,311.03 399.91,311.40 400.24,311.78 C400.57,312.16 400.89,312.54 401.22,312.91 C401.54,313.29 401.86,313.68 402.18,314.06 C402.50,314.44 402.82,314.82 403.13,315.21 C403.45,315.60 403.76,315.98 404.07,316.37 C404.38,316.76 404.69,317.15 405.00,317.54 C405.31,317.93 405.61,318.33 405.91,318.72 C406.22,319.11 406.52,319.51 406.81,319.91 C407.11,320.30 407.41,320.70 407.70,321.10 C408.00,321.50 408.29,321.91 408.58,322.31 C408.87,322.71 409.15,323.12 409.44,323.52 C409.72,323.93 410.01,324.34 410.29,324.75 C410.56,325.16 410.84,325.57 411.12,325.98 C411.39,326.40 411.66,326.81 411.93,327.23 C412.20,327.64 412.47,328.06 412.74,328.48 C413.00,328.90 413.26,329.32 413.52,329.74 C413.78,330.16 414.04,330.59 414.29,331.01 C414.55,331.44 414.80,331.86 415.05,332.29 C415.30,332.72 415.54,333.15 415.79,333.58 C416.03,334.01 416.27,334.45 416.51,334.88 C416.75,335.32 416.98,335.75 417.21,336.19 C417.45,336.63 417.68,337.07 417.90,337.51 C418.13,337.95 418.35,338.40 418.57,338.84 C418.79,339.29 419.01,339.73 419.22,340.18 C419.44,340.63 419.65,341.08 419.86,341.53 C420.07,341.98 420.27,342.43 420.47,342.89 C420.68,343.34 420.87,343.80 421.07,344.26 C421.27,344.71 421.46,345.17 421.65,345.64 C421.84,346.10 422.02,346.56 422.21,347.02 C422.39,347.49 422.57,347.96 422.74,348.42 C422.92,348.89 423.09,349.36 423.26,349.83 C423.43,350.30 423.60,350.78 423.76,351.25 C423.92,351.73 424.08,352.20 424.24,352.68 C424.39,353.16 424.54,353.64 424.69,354.12 C424.84,354.61 424.99,355.09 425.13,355.57 C425.27,356.06 425.41,356.55 425.54,357.04 C425.67,357.52 425.80,358.01 425.93,358.51 C426.06,359.00 426.18,359.49 426.30,359.99 C426.42,360.48 426.53,360.98 426.65,361.48 C426.76,361.98 426.86,362.48 426.97,362.99 C427.07,363.49 427.17,363.99 427.27,364.50 C427.37,365.01 427.46,365.51 427.55,366.02 C427.63,366.53 427.72,367.05 427.80,367.56 C427.88,368.07 427.96,368.59 428.03,369.11 C428.10,369.62 428.17,370.14 428.23,370.66 C428.30,371.18 428.36,371.71 428.41,372.23 C428.47,372.76 428.52,373.28 428.57,373.81 C428.61,374.34 428.66,374.87 428.70,375.40 C428.74,375.93 428.78,376.73 428.80,377.00 C429.28,380.23 431.22,393.17 431.70,396.40 C432.93,390.33 437.87,366.07 439.10,360.00 C439.14,359.75 439.27,358.99 439.37,358.48 C439.46,357.98 439.56,357.48 439.66,356.98 C439.76,356.47 439.87,355.97 439.98,355.47 C440.09,354.98 440.21,354.48 440.33,353.98 C440.45,353.49 440.57,352.99 440.70,352.50 C440.83,352.00 440.96,351.51 441.09,351.02 C441.23,350.53 441.37,350.04 441.51,349.55 C441.66,349.06 441.80,348.57 441.95,348.09 C442.11,347.60 442.26,347.12 442.42,346.63 C442.58,346.15 442.74,345.66 442.91,345.18 C443.07,344.70 443.24,344.22 443.41,343.74 C443.59,343.26 443.76,342.79 443.94,342.31 C444.12,341.83 444.31,341.36 444.49,340.88 C444.68,340.41 444.87,339.94 445.06,339.47 C445.25,338.99 445.45,338.52 445.65,338.05 C445.85,337.58 446.05,337.12 446.25,336.65 C446.46,336.18 446.67,335.72 446.88,335.25 C447.09,334.79 447.30,334.32 447.52,333.86 C447.73,333.40 447.95,332.94 448.18,332.48 C448.40,332.02 448.62,331.56 448.85,331.10 C449.08,330.64 449.31,330.18 449.54,329.73 C449.77,329.27 450.01,328.82 450.24,328.37 C450.48,327.91 450.72,327.46 450.96,327.01 C451.20,326.56 451.45,326.11 451.70,325.66 C451.94,325.21 452.19,324.76 452.44,324.31 C452.69,323.87 452.94,323.42 453.20,322.98 C453.45,322.53 453.71,322.09 453.97,321.65 C454.23,321.20 454.49,320.76 454.75,320.32 C455.01,319.88 455.28,319.44 455.54,319.00 C455.81,318.56 456.08,318.13 456.35,317.69 C456.61,317.25 456.89,316.82 457.16,316.38 C457.43,315.95 457.70,315.52 457.98,315.08 C458.25,314.65 458.53,314.22 458.81,313.79 C459.09,313.36 459.37,312.93 459.65,312.50 C459.93,312.07 460.21,311.65 460.49,311.22 C460.77,310.79 461.06,310.37 461.34,309.95 C461.63,309.52 461.91,309.10 462.20,308.68 C462.49,308.25 462.78,307.83 463.06,307.41 C463.35,306.99 463.64,306.57 463.93,306.15 C464.22,305.73 464.51,305.32 464.81,304.90 C465.10,304.48 465.39,304.07 465.68,303.65 C465.97,303.24 466.27,302.82 466.56,302.41 C466.85,302.00 467.15,301.59 467.44,301.18 C467.74,300.76 468.03,300.35 468.33,299.94 C468.62,299.54 468.92,299.13 469.21,298.72 C469.51,298.31 469.95,297.70 470.10,297.50 C471.00,299.08 474.60,305.42 475.50,307.00 C475.69,306.83 476.28,306.35 476.65,305.99 C477.02,305.63 477.38,305.25 477.72,304.86 C478.06,304.46 478.39,304.04 478.72,303.62 C479.04,303.19 479.35,302.75 479.66,302.30 C479.97,301.84 480.26,301.38 480.56,300.91 C480.86,300.44 481.14,299.97 481.43,299.49 C481.72,299.01 482.01,298.53 482.29,298.05 C482.58,297.57 482.87,297.08 483.15,296.61 C483.44,296.13 483.73,295.65 484.03,295.19 C484.33,294.73 484.63,294.27 484.94,293.82 C485.25,293.37 485.56,292.94 485.89,292.52 C486.21,292.10 486.55,291.69 486.89,291.30 C487.24,290.92 487.60,290.54 487.97,290.20 C488.35,289.85 488.74,289.52 489.14,289.22 C489.55,288.92 489.97,288.65 490.41,288.40 C490.85,288.16 491.31,287.94 491.79,287.75 C492.27,287.57 493.05,287.38 493.30,287.30 C494.22,288.30 497.88,292.30 498.80,293.30 C501.28,291.13 508.93,283.95 513.70,280.30 C518.47,276.65 522.18,274.77 527.40,271.40 C532.62,268.03 542.07,261.98 545.00,260.10 C553.77,254.63 574.03,242.58 597.60,227.30 C621.17,212.02 671.60,178.22 686.40,168.40" fill="none" stroke="#ff00ff" stroke-width="4" stroke-linejoin="round" stroke-linecap="butt"/>
<path d="M254.80,217.70 C255.01,217.84 255.62,218.25 256.03,218.53 C256.44,218.80 256.85,219.08 257.26,219.35 C257.67,219.62 258.09,219.90 258.50,220.17 C258.91,220.44 259.33,220.72 259.74,220.99 C260.16,221.26 260.57,221.53 260.99,221.80 C261.40,222.07 261.82,222.34 262.24,222.61 C262.65,222.88 263.07,223.15 263.49,223.42 C263.91,223.69 264.33,223.96 264.75,224.23 C265.17,224.49 265.59,224.76 266.01,225.03 C266.43,225.30 266.85,225.56 267.27,225.83 C267.69,226.09 268.12,226.36 268.54,226.63 C268.96,226.89 269.39,227.16 269.81,227.42 C270.23,227.68 270.66,227.95 271.08,228.21 C271.51,228.48 271.93,228.74 272.36,229.00 C272.79,229.27 273.21,229.53 273.64,229.79 C274.07,230.05 274.49,230.32 274.92,230.58 C275.35,230.84 275.78,231.10 276.21,231.36 C276.64,231.62 277.07,231.88 277.50,232.15 C277.93,232.41 278.36,232.67 278.79,232.93 C279.22,233.19 279.65,233.45 280.08,233.71 C280.51,233.97 280.94,234.23 281.38,234.48 C281.81,234.74 282.24,235.00 282.67,235.26 C283.11,235.52 283.54,235.78 283.97,236.04 C284.41,236.30 284.84,236.55 285.27,236.81 C285.71,237.07 286.14,237.33 286.58,237.59 C287.01,237.84 287.45,238.10 287.88,238.36 C288.32,238.62 288.75,238.87 289.19,239.13 C289.62,239.39 290.06,239.64 290.49,239.90 C290.93,240.16 291.37,240.42 291.80,240.67 C292.24,240.93 292.68,241.19 293.11,241.44 C293.55,241.70 293.99,241.96 294.42,242.21 C294.86,242.47 295.30,242.73 295.74,242.98 C296.17,243.24 296.61,243.50 297.05,243.75 C297.49,244.01 297.92,244.27 298.36,244.52 C298.80,244.78 299.24,245.04 299.68,245.29 C300.11,245.55 300.55,245.81 300.99,246.06 C301.43,246.32 301.87,246.58 302.31,246.83 C302.74,247.09 303.18,247.35 303.62,247.60 C304.06,247.86 304.50,248.12 304.94,248.38 C305.38,248.63 305.81,248.89 306.25,249.15 C306.69,249.41 307.13,249.66 307.57,249.92 C308.01,250.18 308.44,250.44 308.88,250.70 C309.32,250.95 309.76,251.21 310.20,251.47 C310.64,251.73 311.07,251.99 311.51,252.25 C311.95,252.51 312.39,252.77 312.83,253.02 C313.26,253.28 313.70,253.54 314.14,253.80 C314.58,254.06 315.01,254.32 315.45,254.58 C315.89,254.84 316.33,255.10 316.76,255.37 C317.20,255.63 317.64,255.89 318.07,256.15 C318.51,256.41 318.95,256.67 319.38,256.93 C319.82,257.20 320.25,257.46 320.69,257.72 C321.13,257.98 321.56,258.25 322.00,258.51 C322.43,258.77 322.87,259.04 323.30,259.30 C323.74,259.57 324.17,259.83 324.60,260.09 C325.04,260.36 325.47,260.62 325.91,260.89 C326.34,261.16 326.77,261.42 327.21,261.69 C327.64,261.96 328.07,262.22 328.50,262.49 C328.94,262.76 329.37,263.02 329.80,263.29 C330.23,263.56 330.66,263.83 331.09,264.10 C331.52,264.37 331.96,264.64 332.39,264.91 C332.82,265.18 333.24,265.45 333.67,265.72 C334.10,265.99 334.53,266.26 334.96,266.54 C335.39,266.81 335.82,267.08 336.24,267.35 C336.67,267.63 337.10,267.90 337.52,268.18 C337.95,268.45 338.38,268.72 338.80,269.00 C339.23,269.28 339.65,269.55 340.08,269.83 C340.50,270.11 340.93,270.38 341.35,270.66 C341.77,270.94 342.20,271.22 342.62,271.50 C343.04,271.78 343.46,272.06 343.88,272.34 C344.30,272.62 344.73,272.90 345.15,273.18 C345.57,273.46 345.98,273.75 346.40,274.03 C346.82,274.31 347.24,274.60 347.66,274.88 C348.08,275.17 348.49,275.45 348.91,275.74 C349.32,276.03 349.74,276.31 350.16,276.60 C350.57,276.89 350.98,277.18 351.40,277.47 C351.81,277.76 352.22,278.05 352.64,278.34 C353.05,278.63 353.46,278.92 353.87,279.21 C354.28,279.50 354.69,279.80 355.10,280.09 C355.51,280.39 355.92,280.68 356.32,280.98 C356.73,281.27 357.14,281.57 357.55,281.87 C357.95,282.16 358.36,282.46 358.76,282.76 C359.17,283.06 359.57,283.36 359.97,283.66 C360.37,283.96 360.78,284.26 361.18,284.57 C361.58,284.87 361.98,285.17 362.38,285.48 C362.78,285.78 363.18,286.09 363.57,286.40 C363.97,286.70 364.37,287.01 364.76,287.32 C365.16,287.63 365.56,287.94 365.95,288.25 C366.34,288.56 366.74,288.87 367.13,289.18 C367.52,289.50 367.91,289.81 368.30,290.12 C368.69,290.44 369.08,290.75 369.47,291.07 C369.86,291.39 370.24,291.70 370.63,292.02 C371.02,292.34 371.40,292.66 371.79,292.98 C372.17,293.30 372.55,293.63 372.94,293.95 C373.32,294.27 373.70,294.60 374.08,294.92 C374.46,295.25 374.84,295.57 375.22,295.90 C375.59,296.23 375.97,296.56 376.35,296.89 C376.72,297.22 377.10,297.55 377.47,297.88 C377.84,298.21 378.22,298.55 378.59,298.88 C378.96,299.22 379.33,299.55 379.70,299.89 C380.07,300.23 380.43,300.57 380.80,300.91 C381.17,301.24 381.53,301.59 381.90,301.93 C382.26,302.27 382.62,302.61 382.98,302.96 C383.35,303.30 383.71,303.65 384.07,304.00 C384.42,304.34 384.78,304.69 385.14,305.04 C385.50,305.39 385.85,305.74 386.21,306.09 C386.56,306.45 386.91,306.80 387.26,307.15 C387.62,307.51 387.97,307.87 388.32,308.22 C388.66,308.58 389.01,308.94 389.36,309.30 C389.70,309.66 390.05,310.02 390.39,310.39 C390.74,310.75 391.08,311.11 391.42,311.48 C391.76,311.85 392.10,312.21 392.44,312.58 C392.78,312.95 393.11,313.32 393.45,313.69 C393.78,314.07 394.12,314.44 394.45,314.81 C394.78,315.19 395.11,315.57 395.44,315.94 C395.77,316.32 396.10,316.70 396.43,317.08 C396.75,317.46 397.08,317.84 397.40,318.23 C397.73,318.61 398.05,319.00 398.37,319.38 C398.69,319.77 399.00,320.16 399.32,320.55 C399.64,320.94 399.95,321.33 400.26,321.72 C400.58,322.12 400.89,322.51 401.19,322.91 C401.50,323.30 401.81,323.70 402.11,324.10 C402.42,324.50 402.72,324.90 403.02,325.31 C403.32,325.71 403.61,326.11 403.91,326.52 C404.20,326.92 404.49,327.33 404.78,327.74 C405.07,328.15 405.36,328.56 405.64,328.98 C405.93,329.39 406.21,329.80 406.49,330.22 C406.76,330.63 407.04,331.05 407.31,331.47 C407.59,331.89 407.86,332.31 408.12,332.74 C408.39,333.16 408.65,333.58 408.91,334.01 C409.17,334.44 409.43,334.87 409.69,335.30 C409.94,335.73 410.19,336.16 410.44,336.59 C410.69,337.03 410.93,337.46 411.17,337.90 C411.41,338.34 411.65,338.78 411.88,339.22 C412.12,339.66 412.35,340.10 412.57,340.55 C412.80,340.99 413.02,341.44 413.24,341.89 C413.46,342.33 413.67,342.78 413.88,343.24 C414.09,343.69 414.30,344.14 414.50,344.60 C414.71,345.06 414.90,345.51 415.10,345.97 C415.29,346.43 415.48,346.90 415.67,347.36 C415.86,347.82 416.04,348.29 416.22,348.76 C416.39,349.22 416.57,349.69 416.73,350.17 C416.90,350.64 417.07,351.11 417.23,351.59 C417.39,352.06 417.54,352.54 417.69,353.02 C417.84,353.50 417.98,353.98 418.13,354.47 C418.27,354.95 418.40,355.44 418.53,355.92 C418.66,356.41 418.79,356.90 418.91,357.39 C419.03,357.89 419.14,358.38 419.25,358.88 C419.36,359.37 419.47,359.87 419.57,360.37 C419.67,360.87 419.76,361.37 419.85,361.88 C419.94,362.38 420.06,363.15 420.10,363.40 C421.12,369.40 425.18,393.40 426.20,399.40 C427.33,393.40 431.87,369.40 433.00,363.40 C433.04,363.13 433.14,362.32 433.21,361.78 C433.29,361.24 433.37,360.71 433.46,360.18 C433.55,359.65 433.65,359.12 433.75,358.60 C433.85,358.08 433.95,357.56 434.07,357.04 C434.18,356.53 434.29,356.01 434.42,355.50 C434.54,354.99 434.67,354.49 434.80,353.98 C434.93,353.48 435.07,352.98 435.22,352.48 C435.36,351.98 435.51,351.48 435.66,350.99 C435.81,350.50 435.97,350.01 436.13,349.52 C436.30,349.03 436.46,348.54 436.63,348.06 C436.81,347.58 436.98,347.10 437.16,346.62 C437.34,346.14 437.52,345.67 437.71,345.19 C437.90,344.72 438.09,344.25 438.29,343.78 C438.48,343.31 438.68,342.84 438.89,342.38 C439.09,341.91 439.30,341.45 439.51,340.99 C439.72,340.52 439.93,340.07 440.15,339.61 C440.37,339.15 440.59,338.69 440.81,338.24 C441.03,337.78 441.26,337.33 441.49,336.88 C441.72,336.43 441.95,335.98 442.19,335.53 C442.42,335.08 442.66,334.63 442.90,334.18 C443.14,333.74 443.38,333.29 443.63,332.85 C443.87,332.40 444.12,331.96 444.37,331.52 C444.62,331.07 444.87,330.63 445.12,330.19 C445.37,329.75 445.63,329.31 445.89,328.87 C446.14,328.43 446.40,328.00 446.66,327.56 C446.92,327.12 447.18,326.68 447.45,326.25 C447.71,325.81 447.97,325.37 448.24,324.94 C448.50,324.50 448.77,324.07 449.04,323.63 C449.31,323.20 449.57,322.76 449.84,322.33 C450.11,321.89 450.38,321.46 450.65,321.02 C450.93,320.59 451.20,320.15 451.47,319.72 C451.74,319.28 452.01,318.85 452.29,318.41 C452.56,317.97 452.83,317.54 453.10,317.10 C453.38,316.66 453.65,316.23 453.92,315.79 C454.19,315.35 454.47,314.92 454.74,314.48 C455.01,314.04 455.28,313.60 455.55,313.16 C455.82,312.72 456.09,312.28 456.36,311.84 C456.63,311.40 456.90,310.95 457.17,310.51 C457.44,310.07 457.71,309.62 457.97,309.18 C458.24,308.73 458.50,308.28 458.77,307.83 C459.03,307.39 459.29,306.94 459.55,306.49 C459.81,306.03 460.07,305.58 460.33,305.13 C460.59,304.67 460.85,304.22 461.10,303.76 C461.35,303.31 461.61,302.85 461.86,302.39 C462.11,301.93 462.48,301.23 462.60,301.00 C463.40,303.38 466.60,312.92 467.40,315.30 C467.60,315.12 468.23,314.61 468.62,314.24 C469.00,313.87 469.37,313.48 469.72,313.07 C470.07,312.67 470.41,312.24 470.73,311.81 C471.05,311.37 471.36,310.92 471.66,310.46 C471.96,310.00 472.24,309.52 472.52,309.04 C472.80,308.56 473.07,308.07 473.33,307.58 C473.60,307.08 473.85,306.58 474.10,306.08 C474.36,305.58 474.61,305.07 474.86,304.56 C475.10,304.05 475.35,303.54 475.60,303.04 C475.85,302.53 476.09,302.02 476.35,301.52 C476.60,301.02 476.85,300.53 477.12,300.04 C477.38,299.55 477.65,299.07 477.92,298.60 C478.20,298.13 478.48,297.66 478.78,297.21 C479.08,296.76 479.38,296.33 479.70,295.90 C480.02,295.48 480.35,295.07 480.70,294.68 C481.05,294.29 481.42,293.92 481.80,293.57 C482.18,293.21 482.58,292.88 483.00,292.57 C483.43,292.26 483.87,291.97 484.33,291.71 C484.80,291.45 485.56,291.12 485.80,291.00 C486.70,292.87 490.30,300.33 491.20,302.20 C491.37,302.01 491.90,301.43 492.25,301.04 C492.60,300.66 492.95,300.28 493.31,299.90 C493.66,299.52 494.02,299.15 494.38,298.78 C494.74,298.40 495.11,298.03 495.47,297.67 C495.84,297.30 496.21,296.94 496.58,296.58 C496.95,296.21 497.32,295.85 497.70,295.50 C498.07,295.14 498.45,294.79 498.83,294.44 C499.21,294.09 499.59,293.74 499.97,293.39 C500.35,293.04 500.74,292.70 501.13,292.36 C501.51,292.02 501.90,291.68 502.29,291.34 C502.68,291.00 503.08,290.67 503.47,290.33 C503.87,290.00 504.26,289.67 504.66,289.34 C505.06,289.01 505.46,288.69 505.86,288.36 C506.27,288.04 506.67,287.72 507.08,287.40 C507.48,287.08 507.89,286.76 508.30,286.45 C508.71,286.13 509.12,285.82 509.53,285.50 C509.94,285.19 510.35,284.88 510.77,284.57 C511.18,284.26 511.60,283.96 512.02,283.65 C512.44,283.35 512.86,283.05 513.28,282.75 C513.70,282.44 514.12,282.14 514.54,281.85 C514.97,281.55 515.39,281.25 515.82,280.96 C516.24,280.66 516.67,280.37 517.10,280.08 C517.53,279.79 517.96,279.50 518.39,279.21 C518.82,278.92 519.25,278.64 519.68,278.35 C520.11,278.07 520.55,277.78 520.98,277.50 C521.41,277.22 521.85,276.94 522.29,276.66 C522.72,276.38 523.16,276.10 523.60,275.82 C524.04,275.54 524.48,275.27 524.92,274.99 C525.35,274.72 525.80,274.44 526.24,274.17 C526.68,273.90 527.12,273.63 527.56,273.35 C528.00,273.08 528.45,272.81 528.89,272.55 C529.33,272.28 529.78,272.01 530.22,271.74 C530.67,271.48 531.11,271.21 531.56,270.95 C532.01,270.68 532.45,270.42 532.90,270.15 C533.34,269.89 533.79,269.63 534.24,269.37 C534.69,269.11 535.13,268.85 535.58,268.58 C536.03,268.32 536.48,268.07 536.93,267.81 C537.37,267.55 537.82,267.29 538.27,267.03 C538.72,266.77 539.17,266.52 539.62,266.26 C540.07,266.00 540.51,265.75 540.96,265.49 C541.41,265.24 541.86,264.98 542.31,264.73 C542.76,264.47 543.21,264.22 543.66,263.96 C544.10,263.71 544.78,263.33 545.00,263.20 C553.77,257.80 574.03,245.97 597.60,230.80 C621.17,215.63 671.60,181.97 686.40,172.20" fill="none" stroke="#ffff00" stroke-width="4" stroke-linejoin="round" stroke-linecap="butt"/>

<circle cx="453.3" cy="330.2" r="5.2" fill="#ff0000"/>
</svg>
<div class="bar"></div>
<div class="title"><span>Differential mode Insertion loss</span></div>
<div class="help"><div class="in"></div><svg style="position:absolute;left:0;top:0" width="35" height="36" viewBox="0 0 35 36"><path d="M14 14.4 Q14 10.2 18.4 10.2 Q23 10.2 23 13.8 Q23 16.4 20.3 17.7 Q19 18.4 19 20.8" fill="none" stroke="#fff" stroke-width="4"/><rect x="16.8" y="22.2" width="4.6" height="3.8" fill="#fff"/></svg></div>
<svg width="20" height="20" style="position:absolute;left:55px;top:108px" viewBox="0 0 20 20"><g stroke="#000" stroke-width="1.1"><line x1="6.4" y1="7.3" x2="6.4" y2="14.2"/><line x1="2.9" y1="9" x2="9.9" y2="12.5"/><line x1="2.9" y1="12.5" x2="9.9" y2="9"/></g></svg>
<div class="sub">Sparameter Port Setting</div>
<div class="cb off" style="top:504.3px"></div><div class="sw" style="top:506.0px;background:#0000ff"><div class="dash" style="background:#b0a890"></div></div><div class="lt" style="top:501.8px;color:#0000ff">recommended, sds21</div><div class="cb on" style="top:538.2px"><svg width="22" height="22" viewBox="0 0 22 22"><path d="M3.8 11.2 L8.8 16.2 L17.8 5.2" fill="none" stroke="#fff" stroke-width="3.6"/></svg></div><div class="sw" style="top:540.4px;background:#ff0000"><div class="dash" style="background:#a0a0a0"></div></div><div class="lt" style="top:536.5px;color:#ff0000">sim1, s21</div><div class="cb on" style="top:572.6px"><svg width="22" height="22" viewBox="0 0 22 22"><path d="M3.8 11.2 L8.8 16.2 L17.8 5.2" fill="none" stroke="#fff" stroke-width="3.6"/></svg></div><div class="sw" style="top:574.8px;background:#00ff00"><div class="dash" style="background:#a0a0a0"></div></div><div class="lt" style="top:571.1px;color:#00ff00">sim2, s21</div><div class="cb on" style="top:607.0px"><svg width="22" height="22" viewBox="0 0 22 22"><path d="M3.8 11.2 L8.8 16.2 L17.8 5.2" fill="none" stroke="#fff" stroke-width="3.6"/></svg></div><div class="sw" style="top:609.2px;background:#ff00ff"><div class="dash" style="background:#a0a0a0"></div></div><div class="lt" style="top:605.8px;color:#ff00ff">sim3, s21</div><div class="cb on" style="top:641.4px"><svg width="22" height="22" viewBox="0 0 22 22"><path d="M3.8 11.2 L8.8 16.2 L17.8 5.2" fill="none" stroke="#fff" stroke-width="3.6"/></svg></div><div class="sw" style="top:643.6px;background:#ffff00"><div class="dash" style="background:#808080"></div></div><div class="lt" style="top:640.4px;color:#ffff00">sim4, s21</div>
<div class="nf" style="left:276px;top:529px">10nf</div>
<div class="nf" style="left:271px;top:559px">100nf</div>
<div class="nf" style="left:275px;top:597px">27nf</div>
<div class="nf" style="left:271px;top:639px">33nf</div>
<div class="tip">
<div style="top:9.2px">sim4</div>
<div style="top:29.9px">s21</div>
<div style="top:50.6px">Frequency:55MHz</div>
<div style="top:71.3px">s21:-45.92dB</div>
</div>
<svg width="858" height="730" viewBox="0 0 858 730" style="position:absolute;left:0;top:0">
<g fill="#fff" stroke="#b8b8b8" stroke-width="0.9">
<path d="M676,697.4 C668,697 664,692 664,686.8 C664,681 669.5,676.4 676,676.4 C682.5,676.4 688,681 688,686.8 C688,692 684,696 678,697.2 L671,700 Z"/>
<path d="M687,705 C680,705 676.3,700 676.3,694.8 C676.3,689.3 681,684.6 687,684.6 C693,684.6 697.9,689.3 697.9,694.8 C697.9,699 695,702 692,703.5 L694,706.5 L689,704.8 Z"/>
</g>
<g fill="#aaa"><circle cx="671.7" cy="681.7" r="0.9"/><circle cx="681" cy="681.7" r="0.9"/><circle cx="683.7" cy="691" r="0.8"/><circle cx="691.2" cy="691" r="0.8"/></g>
<line x1="676.5" y1="696.5" x2="698" y2="696.5" stroke="#ddd" stroke-width="1"/>
<g fill="none" stroke="#555" stroke-width="1" stroke-linecap="square" transform="translate(0.8,0.8)" opacity="0.5">

<path d="M708,684 H716 M712,682 V703 M708,689 H716 M708,694 H716 M708,699 H716 M710,689 V699"/>
<path d="M718,684 L726,683 M719,686 L721,689 M722,685.5 V689 M725,685 L723.5,689 M718,690 H726 M719,692 H725 V702 H719 Z M719,697 H725 M722,692 V702"/>
<path d="M729,686 H736 V700 H729 Z M729,693 H736 M732.5,686 V700"/>
<path d="M740,683 L738,688 M740,685 H746 L739,692 M741,687 L747,692 M739.5,694 H746 V702 H739.5 Z"/>
<path d="M750,685 L756,683.5 M753,684 V703 M749,690 H757 M753,690 L749.5,697 M753,691 L757,695 M760,684 L762,686 M759.5,688 L761.5,690 M758,695 H769 M764,682 V703"/>
<path d="M771,688 H777 M774.5,682 V702 L772.5,700 M771,696 L777,693 M779,686 H789 M784,682 V690 M780,690 H788 L781,702 M782,694 L789,702"/>
<path d="M800,685.6 H791.6 V699 H800 M791.6,692.2 H799"/>
<path d="M803.6,699 V685.6 L809.6,699 L815.6,685.6 V699"/>
<path d="M830.2,688.6 A6.6,7 0 1 0 830.2,696.4"/>

</g>
<g fill="none" stroke="#fff" stroke-width="1.1" stroke-linecap="square">

<path d="M708,684 H716 M712,682 V703 M708,689 H716 M708,694 H716 M708,699 H716 M710,689 V699"/>
<path d="M718,684 L726,683 M719,686 L721,689 M722,685.5 V689 M725,685 L723.5,689 M718,690 H726 M719,692 H725 V702 H719 Z M719,697 H725 M722,692 V702"/>
<path d="M729,686 H736 V700 H729 Z M729,693 H736 M732.5,686 V700"/>
<path d="M740,683 L738,688 M740,685 H746 L739,692 M741,687 L747,692 M739.5,694 H746 V702 H739.5 Z"/>
<path d="M750,685 L756,683.5 M753,684 V703 M749,690 H757 M753,690 L749.5,697 M753,691 L757,695 M760,684 L762,686 M759.5,688 L761.5,690 M758,695 H769 M764,682 V703"/>
<path d="M771,688 H777 M774.5,682 V702 L772.5,700 M771,696 L777,693 M779,686 H789 M784,682 V690 M780,690 H788 L781,702 M782,694 L789,702"/>
<path d="M800,685.6 H791.6 V699 H800 M791.6,692.2 H799"/>
<path d="M803.6,699 V685.6 L809.6,699 L815.6,685.6 V699"/>
<path d="M830.2,688.6 A6.6,7 0 1 0 830.2,696.4"/>

</g>
<g fill="none" stroke="#888" stroke-width="0.7" stroke-linecap="square">

<path d="M708,684 H716 M712,682 V703 M708,689 H716 M708,694 H716 M708,699 H716 M710,689 V699"/>
<path d="M718,684 L726,683 M719,686 L721,689 M722,685.5 V689 M725,685 L723.5,689 M718,690 H726 M719,692 H725 V702 H719 Z M719,697 H725 M722,692 V702"/>
<path d="M729,686 H736 V700 H729 Z M729,693 H736 M732.5,686 V700"/>
<path d="M740,683 L738,688 M740,685 H746 L739,692 M741,687 L747,692 M739.5,694 H746 V702 H739.5 Z"/>
<path d="M750,685 L756,683.5 M753,684 V703 M749,690 H757 M753,690 L749.5,697 M753,691 L757,695 M760,684 L762,686 M759.5,688 L761.5,690 M758,695 H769 M764,682 V703"/>
<path d="M771,688 H777 M774.5,682 V702 L772.5,700 M771,696 L777,693 M779,686 H789 M784,682 V690 M780,690 H788 L781,702 M782,694 L789,702"/>
<path d="M800,685.6 H791.6 V699 H800 M791.6,692.2 H799"/>
<path d="M803.6,699 V685.6 L809.6,699 L815.6,685.6 V699"/>
<path d="M830.2,688.6 A6.6,7 0 1 0 830.2,696.4"/>

</g>
</svg>
</body></html>
